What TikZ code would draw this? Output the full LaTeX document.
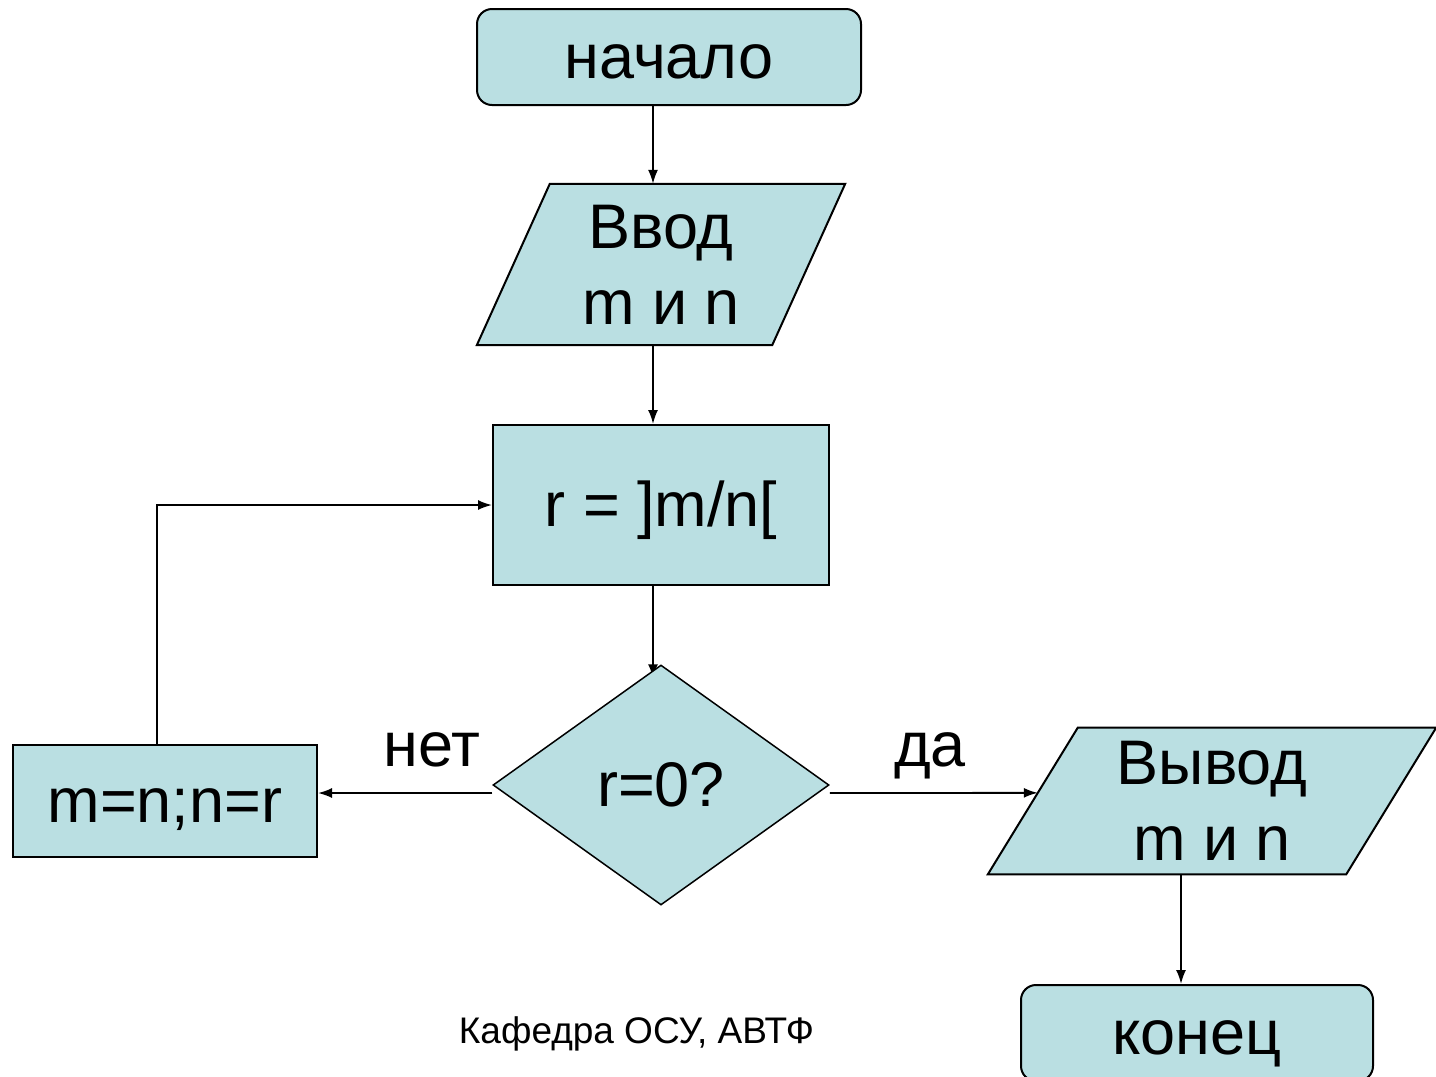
\documentclass[tikz,border=0pt]{standalone}
\usepackage{fontspec}
\setmainfont{Liberation Sans}
\usetikzlibrary{arrows.meta,shapes.geometric,calc}
\definecolor{boxfill}{RGB}{186,223,226}
% struts giving every line the ascent and descent of the 63pt and 37pt fonts
\newcommand{\bigstrut}{\rule[-13.4pt]{0pt}{70.4pt}}
\newcommand{\smallstrut}{\rule[-7.8pt]{0pt}{41.3pt}}
\pgfdeclarelayer{wires}
\pgfdeclarelayer{plates}
\pgfsetlayers{wires,plates,main}
\begin{document}
\begin{tikzpicture}[x=1pt,y=-1pt,
  txt/.style={font=\fontsize{63}{76}\selectfont, align=center, inner sep=0pt},
  term/.style={txt, draw, fill=boxfill, line width=2pt, rounded corners=15pt},
  proc/.style={txt, draw, fill=boxfill, line width=2pt},
  iotext/.style={txt, minimum width=#1},
  plate/.style={draw, fill=boxfill, line width=2pt, line join=miter},
  decision/.style={txt, diamond, draw, fill=boxfill, line width=1.5pt},
  arr/.style={-{Latex[length=14pt,width=10pt]}, line width=1.8pt}]
\useasboundingbox (0,0) rectangle (1436,1077);

% blocks of the algorithm
\node[term, minimum width=384, minimum height=96] (start) at (669,57) {\bigstrut начало};
\node[iotext=368, minimum height=161] (vvod) at (661,264.5) {\bigstrut Ввод\\\bigstrut m и n};
\node[proc, minimum width=336, minimum height=160] (rdiv) at (661,505) {\bigstrut r = ]m/n[};
\node[decision, minimum width=336, minimum height=240] (test) at (661,785) {\bigstrut r=0?};
\node[proc, minimum width=304, minimum height=112] (swap) at (165,801) {\bigstrut m=n;n=r};
\node[iotext=448, minimum height=144] (vyvod) at (1212,801) {\bigstrut Вывод\\\bigstrut m и n};
\node[term, minimum width=352, minimum height=96] (finish) at (1197,1033) {\bigstrut конец};

% slanted input/output plates behind their texts
\begin{pgfonlayer}{plates}
\path[plate] ([xshift=73pt]vvod.north west) -- (vvod.north east)
  -- ([xshift=-73pt]vvod.south east) -- (vvod.south west) -- cycle;
\path[plate] ([xshift=90pt]vyvod.north west) -- (vyvod.north east)
  -- ([xshift=-90pt]vyvod.south east) -- (vyvod.south west) -- cycle;
\end{pgfonlayer}

% branch labels and footer
\node[txt] (no) at (432,745) {\bigstrut нет};
\node[txt] (yes) at (930,745) {\bigstrut да};
\node[txt, font=\fontsize{37}{44}\selectfont] (foot) at (636.5,1030.5) {\smallstrut Кафедра ОСУ, АВТФ};

% guide coordinates for the connector lines
\coordinate (colx) at (653,0);
\coordinate (rowy) at (0,793);
\coordinate (loopx) at (157,0);
\coordinate (outx) at (1181,0);
\coordinate (vyvodin) at ($(vyvod.south west)!0.5556!([xshift=90pt]vyvod.north west)$);

\begin{pgfonlayer}{wires}
\fill[white] (0,0) rectangle (1436,1077);
\draw[arr] (start.south -| colx) -- (vvod.north -| colx);
\draw[arr] (vvod.south -| colx) -- (rdiv.north -| colx);
\draw[arr] (rdiv.south -| colx) -- ([yshift=-14pt]test.north -| colx);
\draw[arr] (test.west |- rowy) -- (swap.east |- rowy);
\draw[arr] (test.east |- rowy) -- (vyvodin);
\draw[arr] (swap.north -| loopx) |- (rdiv.west);
\draw[arr] (vyvod.south -| outx) -- (finish.north -| outx);
\end{pgfonlayer}
\end{tikzpicture}
\end{document}
